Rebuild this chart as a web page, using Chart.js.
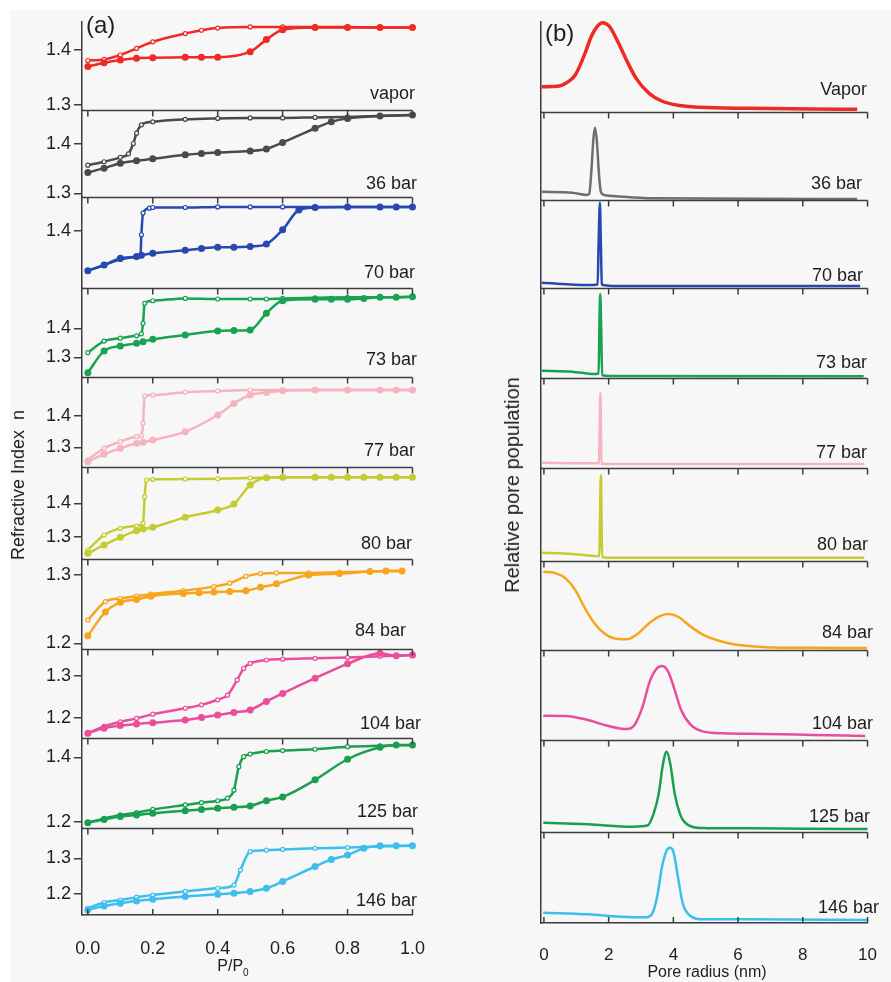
<!DOCTYPE html>
<html>
<head>
<meta charset="utf-8">
<title>Refractive index isotherms and pore size distributions</title>
<script src="https://cdn.jsdelivr.net/npm/chart.js@4.4.1/dist/chart.umd.min.js"></script>
<style>
  body { margin: 0; background: #fff; }
  #fig { position: relative; width: 891px; height: 982px; background: #fff; overflow: hidden; }
  #bg { position: absolute; left: 10px; top: 10px; right: 0; bottom: 0; background: #f7f7f7; }
  canvas { position: absolute; top: 0; }
  .t { position: absolute; font-family: 'Liberation Sans', Arial, sans-serif; color: #1e1e1e; white-space: nowrap; line-height: 1; }
</style>
</head>
<body>
<div id="fig">
  <div id="bg"></div>
  <canvas id="chartA" width="440" height="982" style="left:0"></canvas>
  <canvas id="chartB" width="441" height="982" style="left:450px"></canvas>
  <div class="t" style="left:86px;top:25px;font-size:24px;transform:translateY(-50%)">(a)</div>
  <div class="t" style="left:545px;top:33px;font-size:24px;transform:translateY(-50%)">(b)</div>
  <div class="t" style="left:18px;top:485px;font-size:18px;transform:translate(-50%,-50%) rotate(-90deg)">Refractive Index&nbsp; n</div>
  <div class="t" style="left:512px;top:485px;font-size:20px;transform:translate(-50%,-50%) rotate(-90deg)">Relative pore population</div>
  <div class="t" style="left:233px;top:968px;font-size:16px;transform:translate(-50%,-50%)">P/P<sub style="font-size:10px">0</sub></div>
  <div class="t" style="left:707px;top:972px;font-size:16px;transform:translate(-50%,-50%)">Pore radius (nm)</div>
</div>
<script>
// (a) refractive index vs P/P0, adsorption (filled) and desorption (open) branches
const vaporAds = [[0,1.370],[0.05,1.377],[0.1,1.382],[0.15,1.385],[0.2,1.386],[0.3,1.387],[0.35,1.387],[0.4,1.387],[0.5,1.397],[0.55,1.419],[0.6,1.437],[0.7,1.441],[0.8,1.441],[0.9,1.441],[1.0,1.441]];
const vaporDes = [[0,1.381],[0.05,1.383],[0.1,1.391],[0.15,1.403],[0.2,1.415],[0.3,1.430],[0.35,1.436],[0.4,1.440],[0.5,1.442],[0.6,1.442],[0.7,1.442],[0.8,1.442],[0.9,1.441],[1.0,1.441]];
const bar36Ads = [[0,1.342],[0.05,1.351],[0.1,1.361],[0.15,1.366],[0.2,1.370],[0.3,1.378],[0.35,1.381],[0.4,1.383],[0.5,1.386],[0.55,1.390],[0.6,1.403],[0.7,1.432],[0.75,1.445],[0.8,1.452],[0.9,1.457],[1.0,1.459]];
const bar36Des = [[0,1.357],[0.05,1.364],[0.1,1.373],[0.125,1.380],[0.14,1.401],[0.15,1.422],[0.165,1.439],[0.2,1.445],[0.3,1.450],[0.4,1.452],[0.5,1.453],[0.6,1.453],[0.7,1.454],[0.8,1.455],[0.9,1.457],[1.0,1.459]];
const bar70Ads = [[0,1.336],[0.05,1.345],[0.1,1.356],[0.15,1.359],[0.165,1.361],[0.2,1.364],[0.3,1.369],[0.35,1.372],[0.4,1.374],[0.45,1.374],[0.5,1.375],[0.55,1.379],[0.6,1.402],[0.65,1.434],[0.7,1.438],[0.8,1.439],[0.9,1.439],[0.95,1.439],[1.0,1.439]];
const bar70Des = [[0,1.336],[0.05,1.345],[0.1,1.354],[0.15,1.358],[0.162,1.360],[0.165,1.394],[0.17,1.429],[0.19,1.437],[0.2,1.438],[0.3,1.438],[0.4,1.439],[0.5,1.439],[0.6,1.439],[0.7,1.439],[0.8,1.439],[0.9,1.439],[1.0,1.439]];
const bar73Ads = [[0,1.247],[0.05,1.322],[0.1,1.339],[0.15,1.348],[0.17,1.354],[0.2,1.362],[0.3,1.377],[0.4,1.391],[0.45,1.392],[0.5,1.394],[0.55,1.452],[0.6,1.495],[0.7,1.500],[0.75,1.500],[0.8,1.500],[0.85,1.503],[0.9,1.507],[0.95,1.507],[1.0,1.509]];
const bar73Des = [[0,1.316],[0.05,1.356],[0.1,1.366],[0.15,1.374],[0.165,1.381],[0.17,1.417],[0.175,1.486],[0.2,1.495],[0.3,1.503],[0.4,1.501],[0.5,1.501],[0.55,1.501],[0.6,1.503],[0.7,1.505],[0.8,1.507],[0.9,1.507],[1.0,1.509]];
const bar77Ads = [[0,1.254],[0.05,1.278],[0.1,1.297],[0.15,1.313],[0.17,1.316],[0.2,1.323],[0.3,1.350],[0.4,1.403],[0.45,1.440],[0.5,1.467],[0.55,1.475],[0.6,1.481],[0.7,1.483],[0.8,1.483],[0.9,1.483],[0.95,1.483],[1.0,1.483]];
const bar77Des = [[0,1.260],[0.05,1.297],[0.1,1.318],[0.15,1.334],[0.165,1.337],[0.17,1.377],[0.175,1.464],[0.2,1.467],[0.3,1.476],[0.4,1.480],[0.5,1.483],[0.6,1.483],[0.7,1.483],[0.8,1.483],[0.9,1.483],[1.0,1.483]];
const bar80Ads = [[0,1.250],[0.05,1.275],[0.1,1.298],[0.15,1.318],[0.17,1.323],[0.2,1.328],[0.3,1.358],[0.4,1.380],[0.45,1.398],[0.5,1.455],[0.55,1.477],[0.6,1.478],[0.7,1.478],[0.75,1.478],[0.8,1.478],[0.85,1.478],[0.9,1.478],[0.95,1.478],[1.0,1.478]];
const bar80Des = [[0,1.260],[0.05,1.305],[0.1,1.325],[0.15,1.332],[0.17,1.340],[0.175,1.420],[0.18,1.470],[0.2,1.472],[0.3,1.473],[0.4,1.474],[0.5,1.476],[0.6,1.478],[0.7,1.478],[0.8,1.478],[0.9,1.478],[1.0,1.478]];
const bar84Ads = [[0,1.211],[0.054,1.246],[0.1,1.260],[0.15,1.264],[0.194,1.269],[0.294,1.273],[0.343,1.274],[0.388,1.275],[0.437,1.276],[0.487,1.277],[0.532,1.282],[0.581,1.287],[0.68,1.300],[0.775,1.302],[0.869,1.305],[0.918,1.306],[0.968,1.306]];
const bar84Des = [[0,1.234],[0.054,1.261],[0.1,1.266],[0.15,1.269],[0.194,1.272],[0.294,1.277],[0.388,1.283],[0.437,1.288],[0.487,1.298],[0.532,1.302],[0.581,1.303],[0.68,1.303],[0.775,1.304],[0.869,1.305],[0.968,1.306]];
const bar104Ads = [[0,1.164],[0.05,1.176],[0.1,1.182],[0.15,1.186],[0.2,1.189],[0.3,1.195],[0.35,1.201],[0.4,1.207],[0.45,1.213],[0.5,1.219],[0.55,1.239],[0.6,1.258],[0.7,1.294],[0.8,1.328],[0.9,1.353],[0.95,1.347],[1.0,1.349]];
const bar104Des = [[0,1.164],[0.05,1.180],[0.1,1.191],[0.15,1.199],[0.2,1.209],[0.3,1.223],[0.35,1.231],[0.4,1.243],[0.43,1.254],[0.46,1.290],[0.48,1.317],[0.5,1.329],[0.55,1.337],[0.6,1.339],[0.7,1.341],[0.8,1.343],[0.9,1.346],[1.0,1.349]];
const bar125Ads = [[0,1.197],[0.05,1.207],[0.1,1.216],[0.15,1.221],[0.2,1.226],[0.3,1.234],[0.35,1.238],[0.4,1.242],[0.45,1.245],[0.5,1.249],[0.55,1.265],[0.6,1.277],[0.7,1.330],[0.8,1.394],[0.9,1.431],[0.95,1.438],[1.0,1.438]];
const bar125Des = [[0,1.197],[0.05,1.210],[0.1,1.221],[0.15,1.228],[0.2,1.238],[0.3,1.252],[0.35,1.259],[0.4,1.265],[0.43,1.273],[0.45,1.298],[0.465,1.371],[0.48,1.402],[0.5,1.410],[0.55,1.418],[0.6,1.421],[0.7,1.425],[0.8,1.433],[0.9,1.436],[1.0,1.438]];
const bar146Ads = [[0,1.155],[0.05,1.166],[0.1,1.174],[0.15,1.180],[0.2,1.185],[0.3,1.193],[0.4,1.199],[0.45,1.202],[0.5,1.207],[0.55,1.216],[0.6,1.235],[0.7,1.277],[0.75,1.297],[0.8,1.309],[0.85,1.328],[0.9,1.335],[0.95,1.335],[1.0,1.335]];
const bar146Des = [[0,1.160],[0.05,1.176],[0.1,1.183],[0.15,1.191],[0.2,1.197],[0.3,1.207],[0.4,1.216],[0.45,1.225],[0.47,1.267],[0.5,1.319],[0.55,1.323],[0.6,1.325],[0.7,1.328],[0.8,1.330],[0.9,1.333],[1.0,1.335]];

// (b) relative pore population vs pore radius (nm), scaled 0..1 per panel
const vaporPsd = [[-0.07,0.281],[0.475,0.289],[0.67,0.319],[0.97,0.411],[1.27,0.652],[1.46,0.837],[1.66,0.956],[1.81,0.993],[2.01,0.956],[2.26,0.8],[2.55,0.578],[2.85,0.374],[3.25,0.207],[3.64,0.122],[4.14,0.074],[4.83,0.052],[6.3,0.041],[8.28,0.033],[9.68,0.03]];
const bar36Psd = [[-0.07,0.094],[0.87,0.083],[1.32,0.057],[1.40,0.07],[1.47,0.35],[1.53,0.7],[1.58,0.82],[1.64,0.65],[1.70,0.3],[1.76,0.09],[1.87,0.057],[2.36,0.04],[3.35,0.019],[9.68,0.011]];
const bar70Psd = [[-0.07,0.06],[1.36,0.034],[1.66,0.04],[1.69,0.5],[1.73,0.97],[1.76,0.5],[1.79,0.04],[1.87,0.03],[2.17,0.023],[9.77,0.023]];
const bar73Psd = [[-0.07,0.081],[0.87,0.07],[1.56,0.044],[1.69,0.05],[1.72,0.7],[1.74,0.933],[1.77,0.55],[1.80,0.03],[2.05,0.022],[9.88,0.02]];
const bar77Psd = [[-0.07,0.059],[1.56,0.052],[1.70,0.052],[1.745,0.837],[1.78,0.045],[1.85,0.044],[9.9,0.044]];
const bar80Psd = [[-0.07,0.089],[0.87,0.075],[1.56,0.054],[1.71,0.05],[1.76,0.925],[1.80,0.04],[2.0,0.036],[9.9,0.036]];
const bar84Psd = [[-0.02,0.88],[0.38,0.861],[0.67,0.805],[0.97,0.674],[1.27,0.468],[1.56,0.3],[1.86,0.187],[2.16,0.131],[2.55,0.12],[2.85,0.169],[3.25,0.3],[3.55,0.375],[3.84,0.404],[4.14,0.375],[4.54,0.262],[4.93,0.169],[5.33,0.112],[5.82,0.067],[6.32,0.045],[7.31,0.026],[8.3,0.024],[9.98,0.022]];
const bar104Psd = [[-0.02,0.27],[0.67,0.267],[1.36,0.222],[1.96,0.159],[2.55,0.122],[2.8,0.167],[3.05,0.37],[3.25,0.63],[3.45,0.778],[3.65,0.822],[3.84,0.759],[4.04,0.556],[4.24,0.333],[4.54,0.167],[4.93,0.093],[5.53,0.074],[6.82,0.067],[8.3,0.056],[9.93,0.044]];
const bar125Psd = [[-0.02,0.10],[1.37,0.083],[2.75,0.058],[3.2,0.07],[3.39,0.2],[3.55,0.42],[3.67,0.72],[3.79,0.873],[3.9,0.75],[4.04,0.42],[4.2,0.2],[4.34,0.11],[4.6,0.055],[5.0,0.042],[6.32,0.04],[8.0,0.036],[10.0,0.033]];
const bar146Psd = [[-0.02,0.113],[1.37,0.095],[2.36,0.07],[3.15,0.062],[3.35,0.106],[3.5,0.29],[3.65,0.619],[3.8,0.802],[3.9,0.828],[4.0,0.784],[4.14,0.509],[4.29,0.216],[4.49,0.088],[4.93,0.04],[6.32,0.04],[9.98,0.033]];

const namesA = ['vapor','36 bar','70 bar','73 bar','77 bar','80 bar','84 bar','104 bar','125 bar','146 bar'];
const namesB = ['Vapor','36 bar','70 bar','73 bar','77 bar','80 bar','84 bar','104 bar','125 bar','146 bar'];
const adsA = [vaporAds,bar36Ads,bar70Ads,bar73Ads,bar77Ads,bar80Ads,bar84Ads,bar104Ads,bar125Ads,bar146Ads];
const desA = [vaporDes,bar36Des,bar70Des,bar73Des,bar77Des,bar80Des,bar84Des,bar104Des,bar125Des,bar146Des];
const psdB = [vaporPsd,bar36Psd,bar70Psd,bar73Psd,bar77Psd,bar80Psd,bar84Psd,bar104Psd,bar125Psd,bar146Psd];

// y ranges and tick labels of the (a) panels
const minA = [1.291,1.2925,1.308,1.232,1.237,1.233,1.1917,1.1527,1.1804,1.141];
const maxA = [1.451,1.469,1.455,1.539,1.5246,1.509,1.3234,1.363,1.46,1.385];
const ticksA = [[1.3,1.4],[1.3,1.4],[1.4],[1.3,1.4],[1.3,1.4],[1.3,1.4],[1.2,1.3],[1.2,1.3],[1.2,1.4],[1.2,1.3]];
const xTicksA = [0,0.2,0.4,0.6,0.8,1.0];
const xTicksB = [0,2,4,6,8,10];

const colorsA = ['#ee2a24','#4a4a4a','#2748b0','#18a352','#f7b3bf','#c4cc30','#f8a51e','#e94d9c','#1a9f4e','#3dbfed'];
const colorsB = ['#ee2a24','#6e6e6e','#2748b0','#18a352','#f7b3bf','#c4cc30','#f8a51e','#e94d9c','#1a9f4e','#3dbfed'];

// layout only
const heightsA = [88,87,91,89,90,92,90,89,90,87];
const heightsB = [90,88,88,90,90,93,89,90,92,91];
const labelPosA = [[415,93],[417,183],[415,272],[417,359],[415,450],[412,543],[406,630],[421,723],[418,811],[417,900]];
const labelPosB = [[867,89],[862,183],[863,275],[867,362],[867,452],[868,544],[873,632],[873,723],[870,816],[879,907]];

const FONT = "'Liberation Sans', Arial, sans-serif";
const AXIS = '#3c3c3c';

const fig = document.getElementById('fig');
function addLabels(names, pos) {
  names.forEach((n, i) => {
    const d = document.createElement('div');
    d.className = 't';
    d.textContent = n;
    d.style.fontSize = '18px';
    d.style.right = (891 - pos[i][0]) + 'px';
    d.style.top = pos[i][1] + 'px';
    d.style.transform = 'translateY(-50%)';
    fig.appendChild(d);
  });
}
addLabels(namesA, labelPosA);
addLabels(namesB, labelPosB);

// panel separators with tick marks pointing into each panel
const panelFrame = {
  id: 'panelFrame',
  afterDatasetsDraw(chart, args, o) {
    const {ctx, chartArea: a, scales} = chart;
    const xs = scales.x;
    ctx.save();
    ctx.strokeStyle = AXIS;
    ctx.lineWidth = 1.5;
    Object.values(scales).forEach(s => {
      if (s.axis !== 'y' || s.top <= a.top + 1) return;
      const y = Math.round(s.top) + 0.5;
      ctx.beginPath();
      ctx.moveTo(a.left, y); ctx.lineTo(a.right, y);
      o.ticks.forEach(v => {
        const x = xs.getPixelForValue(v);
        ctx.moveTo(x, y); ctx.lineTo(x, y + 6);
      });
      ctx.stroke();
    });
    ctx.beginPath();
    o.ticks.forEach(v => {
      const x = xs.getPixelForValue(v);
      ctx.moveTo(x, a.bottom); ctx.lineTo(x, a.bottom - 6);
    });
    ctx.stroke();
    ctx.restore();
  }
};

function pts(arr) { return arr.map(p => ({x: p[0], y: p[1]})); }

// chart (a)
const scalesA = {
  x: {
    type: 'linear', position: 'bottom', min: -0.018, max: 1.0,
    afterFit: s => { s.height = 67; },
    afterBuildTicks: s => { s.ticks = xTicksA.map(v => ({value: v})); },
    grid: {display: false},
    border: {color: AXIS, width: 1.5},
    ticks: {padding: 15, color: '#1e1e1e', font: {family: FONT, size: 18}, callback: v => v.toFixed(1)}
  }
};
const dsA = [];
namesA.forEach((n, i) => {
  scalesA['y' + i] = {
    type: 'linear', position: 'left', stack: 'a', stackWeight: heightsA[i], weight: 10 - i,
    min: minA[i], max: maxA[i],
    afterFit: s => { s.width = 82; },
    afterBuildTicks: s => { s.ticks = ticksA[i].map(v => ({value: v})); },
    grid: {drawOnChartArea: false, tickLength: 8, color: AXIS, lineWidth: 1.5},
    border: {color: AXIS, width: 1.5},
    ticks: {padding: 3, color: '#1e1e1e', font: {family: FONT, size: 18}, callback: v => v.toFixed(1)}
  };
  dsA.push({
    label: n + ' adsorption', data: pts(adsA[i]), yAxisID: 'y' + i,
    borderColor: colorsA[i], backgroundColor: colorsA[i], borderWidth: 2.5,
    pointRadius: 3.5, pointHoverRadius: 3.5, pointBorderWidth: 0,
    cubicInterpolationMode: 'monotone', clip: false
  });
  dsA.push({
    label: n + ' desorption', data: pts(desA[i]), yAxisID: 'y' + i,
    borderColor: colorsA[i], backgroundColor: '#f7f7f7', borderWidth: 2.5,
    pointRadius: 2, pointHoverRadius: 2, pointBorderWidth: 1.2, pointBorderColor: colorsA[i],
    cubicInterpolationMode: 'monotone', clip: false
  });
});

new Chart(document.getElementById('chartA'), {
  type: 'line',
  data: {datasets: dsA},
  options: {
    responsive: false, animation: false,
    layout: {padding: {left: 0, right: 16, top: 22, bottom: 0}},
    plugins: {legend: {display: false}, tooltip: {enabled: false}, panelFrame: {ticks: xTicksA}},
    scales: scalesA
  },
  plugins: [panelFrame]
});

// chart (b)
const scalesB = {
  x: {
    type: 'linear', position: 'bottom', min: -0.09, max: 10,
    afterFit: s => { s.height = 59; },
    afterBuildTicks: s => { s.ticks = xTicksB.map(v => ({value: v})); },
    grid: {display: false},
    border: {color: AXIS, width: 1.5},
    ticks: {padding: 14, color: '#1e1e1e', font: {family: FONT, size: 17}}
  }
};
const dsB = [];
namesB.forEach((n, i) => {
  scalesB['y' + i] = {
    type: 'linear', position: 'left', stack: 'b', stackWeight: heightsB[i], weight: 10 - i,
    min: 0, max: 1,
    afterFit: s => { s.width = 91; },
    grid: {display: false},
    border: {color: AXIS, width: 1.5},
    ticks: {display: false}
  };
  dsB.push({
    label: n, data: pts(psdB[i]), yAxisID: 'y' + i,
    borderColor: colorsB[i], borderWidth: i === 0 ? 3.5 : 2.5,
    pointRadius: 0, cubicInterpolationMode: 'monotone', clip: false
  });
});

new Chart(document.getElementById('chartB'), {
  type: 'line',
  data: {datasets: dsB},
  options: {
    responsive: false, animation: false,
    layout: {padding: {left: 0, right: 10, top: 22, bottom: 0}},
    plugins: {legend: {display: false}, tooltip: {enabled: false}, panelFrame: {ticks: xTicksB}},
    scales: scalesB
  },
  plugins: [panelFrame]
});
</script>
</body>
</html>
